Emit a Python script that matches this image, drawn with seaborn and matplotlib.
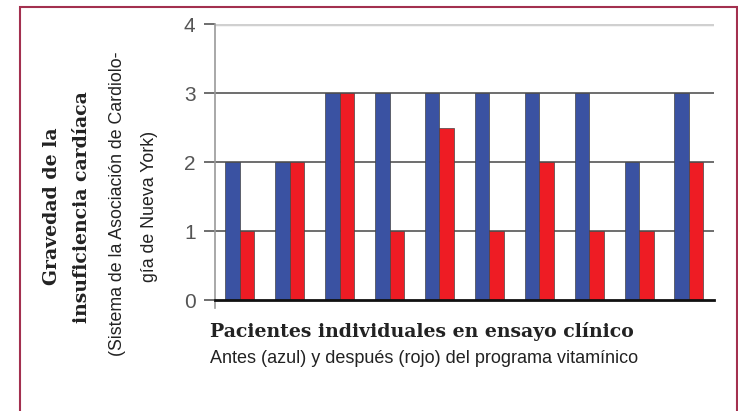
import pandas as pd
import seaborn as sns
import matplotlib.pyplot as plt
from matplotlib.patches import Rectangle

# Gravedad (NYHA) por paciente, antes y después del programa vitamínico
pacientes = [str(i) for i in range(1, 11)]
antes = [2, 2, 3, 3, 3, 3, 3, 3, 2, 3]
despues = [1, 2, 3, 1, 2.5, 1, 2, 1, 1, 2]
y_ticks = [0, 1, 2, 3, 4]

data = pd.DataFrame({
    'paciente': pacientes * 2,
    'gravedad': antes + despues,
    'momento': ['antes'] * len(antes) + ['despues'] * len(despues),
})

sns.set_style('white')
plt.rcParams['font.family'] = ['Liberation Sans', 'DejaVu Sans']

fig = plt.figure(figsize=(7.38, 4.11), dpi=100)
ax = fig.add_axes([0.2913, 0.270, 0.676, 0.6715])

sns.barplot(
    data=data,
    x='paciente',
    y='gravedad',
    hue='momento',
    palette=['#3a52a2', '#ee1c24'],
    saturation=1,
    width=0.58,
    edgecolor='#444444',
    linewidth=0.5,
    legend=False,
    ax=ax,
)

ax.set_ylim(0, 4)
ax.set_xlim(-0.5, 9.5)
ax.set_yticks(y_ticks)
ax.set_yticklabels([str(t) for t in y_ticks], fontsize=15, color='#555555',
                   family=['Liberation Sans Narrow', 'Liberation Sans'])
ax.set_xticks([i + 0.5 for i in range(9)])
ax.set_xticklabels([])
ax.tick_params(axis='x', length=2, width=0.6, color='#999999', direction='out')
ax.tick_params(axis='y', length=8, width=1.2, color='#555555', pad=6, left=True)
ax.set_xlabel('')
ax.set_ylabel('')

for v in [1, 2, 3]:
    ax.axhline(v, color='#555555', linewidth=1.2, zorder=0)
ax.axhline(4, color='#d0d0d0', linewidth=2.5, zorder=0)

sns.despine(ax=ax, top=True, right=True)
ax.spines['left'].set_color('#999999')
ax.spines['left'].set_linewidth(1.2)
ax.spines['left'].set_bounds(-0.12, 4)
ax.spines['bottom'].set_color('#111111')
ax.spines['bottom'].set_linewidth(2)

# textos de los ejes
serif = ['DejaVu Serif']
fig.text(0.2845, 0.180, 'Pacientes individuales en ensayo clínico', fontsize=13.6,
         weight='bold', family=serif, color='#222222', ha='left', va='baseline')
fig.text(0.2845, 0.117, 'Antes (azul) y después (rojo) del programa vitamínico',
         fontsize=13, color='#222222', ha='left', va='baseline')

fig.text(0.0705, 0.497, 'Gravedad de la', rotation=90, fontsize=13.6, weight='bold',
         family=serif, color='#222222', ha='center', va='center')
fig.text(0.111, 0.497, 'insuficiencia cardíaca', rotation=90, fontsize=13.6, weight='bold',
         family=serif, color='#222222', ha='center', va='center')
fig.text(0.159, 0.505, '(Sistema de la Asociación de Cardiolo-', rotation=90,
         fontsize=12.8, color='#222222', ha='center', va='center')
fig.text(0.203, 0.497, 'gía de Nueva York)', rotation=90,
         fontsize=12.8, color='#222222', ha='center', va='center')

# marco
fig.patches.append(Rectangle((0.0271, -0.02), 0.9715, 1.003, transform=fig.transFigure,
                             fill=False, edgecolor='#a3304f', linewidth=1.5))

plt.savefig('out.png', dpi=100)
